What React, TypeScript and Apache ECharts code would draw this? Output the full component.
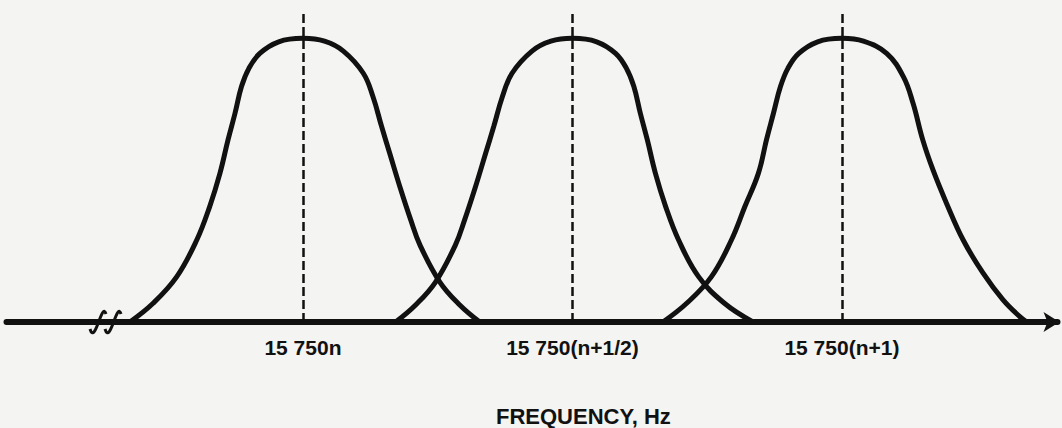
import React, { useEffect, useRef } from "react";
import * as echarts from "echarts";

// x: frequency offset in units of 15 750 Hz from 15 750n ; y: relative amplitude
const bell1: [number, number][] = [
  [-0.321, 0], [-0.278, 0.066], [-0.234, 0.16], [-0.197, 0.289], [-0.173, 0.407],
  [-0.154, 0.524], [-0.139, 0.642], [-0.126, 0.736], [-0.114, 0.83], [-0.1, 0.895],
  [-0.08, 0.947], [-0.045, 0.988], [0, 1.0], [0.04, 0.99], [0.075, 0.955],
  [0.112, 0.877], [0.13, 0.794], [0.146, 0.689], [0.161, 0.595], [0.18, 0.476],
  [0.2, 0.36], [0.217, 0.272], [0.254, 0.141], [0.291, 0.06], [0.328, 0],
];
const bell2: [number, number][] = [
  [0.172, 0], [0.209, 0.06], [0.246, 0.141], [0.283, 0.272], [0.3, 0.36],
  [0.32, 0.476], [0.339, 0.595], [0.354, 0.689], [0.37, 0.794], [0.388, 0.877],
  [0.425, 0.955], [0.46, 0.99], [0.5, 1.0], [0.545, 0.988], [0.58, 0.947],
  [0.6, 0.895], [0.614, 0.83], [0.626, 0.736], [0.639, 0.642], [0.654, 0.524],
  [0.673, 0.407], [0.697, 0.289], [0.734, 0.16], [0.782, 0.066], [0.835, 0],
];
const bell3: [number, number][] = [
  [0.668, 0], [0.712, 0.066], [0.758, 0.16], [0.795, 0.289], [0.82, 0.407],
  [0.845, 0.524], [0.86, 0.642], [0.873, 0.736], [0.886, 0.83], [0.9, 0.895],
  [0.92, 0.947], [0.955, 0.988], [1.0, 1.0], [1.04, 0.99], [1.083, 0.947],
  [1.114, 0.865], [1.132, 0.771], [1.15, 0.642], [1.169, 0.536], [1.194, 0.419],
  [1.225, 0.289], [1.262, 0.172], [1.299, 0.078], [1.33, 0.019], [1.343, 0],
];
const centerValues = [0, 0.5, 1];
const tickLabels = ["15 750n", "15 750(n+1/2)", "15 750(n+1)"];
const axisTitle = "FREQUENCY, Hz";

export default function App() {
  const ref = useRef<HTMLDivElement>(null);
  useEffect(() => {
    if (!ref.current) return;
    const chart = echarts.init(ref.current, undefined, { renderer: "svg" });
    const ink = "#111";
    const font = "'Liberation Sans', Arial, sans-serif";
    const curve = (data: [number, number][], withMarks: boolean) => ({
      type: "line",
      data,
      smooth: 0.4,
      showSymbol: false,
      symbol: "none",
      lineStyle: { color: ink, width: 5 },
      silent: true,
      z: 3,
      markLine: withMarks
        ? {
            silent: true,
            symbol: "none",
            label: { show: false },
            lineStyle: { color: ink, width: 2.5, type: [9, 4] },
            data: centerValues.map((v) => ({ xAxis: v })),
          }
        : undefined,
    });
    chart.setOption({
      animation: false,
      backgroundColor: "#f4f4f2",
      title: {
        text: axisTitle,
        left: 491,
        top: 400,
        textStyle: { fontFamily: font, fontSize: 22, fontWeight: "bold", color: ink },
      },
      grid: { left: 6.5, right: 4.5, top: 10, bottom: 106 },
      xAxis: {
        type: "value",
        min: -0.55,
        max: 1.4,
        axisLine: {
          show: true,
          lineStyle: { color: ink, width: 6 },
          symbol: ["none", "arrow"],
          symbolSize: [15, 16],
          symbolOffset: [0, 2],
        },
        axisTick: { show: false },
        splitLine: { show: false },
        axisLabel: {
          customValues: centerValues,
          margin: 15,
          fontFamily: font,
          fontSize: 21,
          fontWeight: "bold",
          color: ink,
          formatter: (v: number) => {
            const i = centerValues.findIndex((c) => Math.abs(c - v) < 1e-6);
            return i >= 0 ? tickLabels[i] : "";
          },
        },
      },
      yAxis: { type: "value", min: 0, max: 1.1, show: false },
      graphic: [
        {
          type: "bezierCurve",
          shape: { x1: 106, y1: 314, cpx1: 102, cpy1: 300, cpx2: 95, cpy2: 346, x2: 90, y2: 329 },
          style: { stroke: ink, lineWidth: 3, fill: "none" },
          z: 10,
        },
        {
          type: "bezierCurve",
          shape: { x1: 121, y1: 314, cpx1: 117, cpy1: 300, cpx2: 110, cpy2: 346, x2: 105, y2: 329 },
          style: { stroke: ink, lineWidth: 3, fill: "none" },
          z: 10,
        },
      ],
      series: [curve(bell1, true), curve(bell2, false), curve(bell3, false)],
    });
    return () => chart.dispose();
  }, []);
  return (
    <div
      ref={ref}
      style={{ position: "fixed", left: 0, top: 0, width: 1062, height: 428 }}
    />
  );
}
